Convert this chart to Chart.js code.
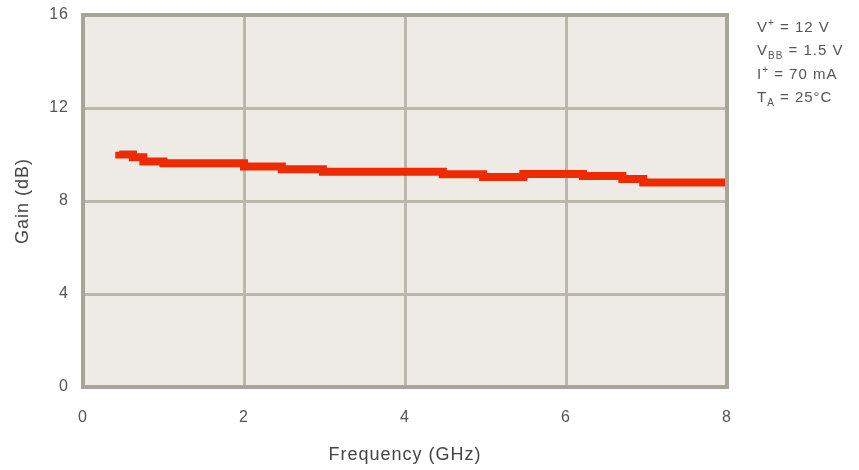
<!DOCTYPE html>
<html>
<head>
<meta charset="utf-8">
<script src="https://cdn.jsdelivr.net/npm/chart.js@4/dist/chart.umd.min.js"></script>
<style>
  html, body { margin: 0; padding: 0; background: #fff; }
  #wrap { width: 859px; height: 470px; position: relative; }
</style>
</head>
<body>
<div id="wrap"><canvas id="gainChart"></canvas></div>
<script>
// Gain vs frequency (stepped trace)
const freqGHz = [0.45, 0.62, 0.75, 1.0, 2.0, 2.47, 2.98, 4.47, 4.97, 5.47, 6.21, 6.7, 6.96, 7.5, 8.0];
const gainDb  = [10.12, 10.0, 9.88, 9.7, 9.62, 9.48, 9.37, 9.26, 9.15, 9.03, 9.16, 9.07, 8.95, 8.8, 8.8];

const xTicks = [0, 2, 4, 6, 8];
const yTicks = [0, 4, 8, 12, 16];

// Test conditions: [main, subscript, rest, superscript?]
const conditions = [
    ['V', '+', ' = 12 V', true],
    ['V', 'BB', ' = 1.5 V', false],
    ['I', '+', ' = 70 mA', true],
    ['T', 'A', ' = 25\u00b0C', false]
];

const FONT = '"Liberation Sans", Arial, sans-serif';
const TEXT_COLOR = '#555';
const GRID_COLOR = '#bbb8aa';
const BORDER_COLOR = '#a9a498';

const points = freqGHz.map((f, i) => ({ x: f, y: gainDb[i] }));

// the original lettering is wide, so space the glyphs a little
const spacing = {
    id: 'spacing',
    beforeLayout(chart) { chart.ctx.letterSpacing = '1px'; },
    beforeDraw(chart) { chart.ctx.letterSpacing = '1px'; }
};

const plotBg = {
    id: 'plotBg',
    beforeDraw(chart) {
        const { ctx, chartArea: a } = chart;
        ctx.save();
        ctx.fillStyle = '#eeebe6';
        ctx.fillRect(a.left, a.top, a.right - a.left, a.bottom - a.top);
        ctx.restore();
    },
    afterDatasetsDraw(chart) {
        // thick frame round the plot
        const { ctx, chartArea: a } = chart;
        ctx.save();
        ctx.strokeStyle = BORDER_COLOR;
        ctx.lineWidth = 4;
        ctx.strokeRect(a.left, a.top, a.right - a.left, a.bottom - a.top);
        ctx.restore();
    }
};

const conditionsText = {
    id: 'conditionsText',
    afterDraw(chart) {
        const { ctx } = chart;
        ctx.save();
        ctx.fillStyle = TEXT_COLOR;
        ctx.textBaseline = 'alphabetic';
        ctx.letterSpacing = '1px';
        let y = 31.5;
        conditions.forEach(([main, sub, rest, sup]) => {
            let x = 757;
            ctx.font = '15px ' + FONT;
            ctx.fillText(main, x, y);
            x += ctx.measureText(main).width;
            ctx.font = '10px ' + FONT;
            ctx.fillText(sub, x, sup ? y - 6 : y + 4);
            x += ctx.measureText(sub).width;
            ctx.font = '15px ' + FONT;
            ctx.fillText(rest, x, y);
            y += 23.5;
        });
        ctx.restore();
    }
};

new Chart(document.getElementById('gainChart'), {
    type: 'line',
    data: {
        datasets: [{
            data: points,
            borderColor: '#f02a00',
            borderWidth: 8,
            borderCapStyle: 'butt',
            stepped: 'after',
            pointRadius: 0,
            fill: false
        }]
    },
    options: {
        responsive: true,
        maintainAspectRatio: false,
        animation: false,
        layout: { padding: { left: 0, right: 132, top: 15, bottom: 0 } },
        plugins: {
            legend: { display: false },
            tooltip: { enabled: false }
        },
        scales: {
            x: {
                type: 'linear',
                min: 0,
                max: 8,
                afterBuildTicks: s => { s.ticks = xTicks.map(v => ({ value: v })); },
                afterFit: s => { s.height = 83; s.paddingLeft = 0; s.paddingRight = 0; },
                grid: { color: GRID_COLOR, lineWidth: 3, drawTicks: false },
                border: { display: false },
                ticks: { color: TEXT_COLOR, font: { family: FONT, size: 16 }, padding: 21 },
                title: {
                    display: true,
                    text: 'Frequency (GHz)',
                    color: '#444',
                    font: { family: FONT, size: 18 },
                    padding: { top: 4, bottom: 4 }
                }
            },
            y: {
                min: 0,
                max: 16,
                afterBuildTicks: s => { s.ticks = yTicks.map(v => ({ value: v })); },
                afterFit: s => { s.width = 83; s.paddingTop = 0; s.paddingBottom = 0; },
                grid: { color: GRID_COLOR, lineWidth: 3, drawTicks: false },
                border: { display: false },
                ticks: { color: TEXT_COLOR, font: { family: FONT, size: 16 }, padding: 14 },
                title: {
                    display: true,
                    text: 'Gain (dB)',
                    color: '#444',
                    font: { family: FONT, size: 18 },
                    padding: { top: 12, bottom: 4 }
                }
            }
        }
    },
    plugins: [spacing, plotBg, conditionsText]
});
</script>
</body>
</html>
